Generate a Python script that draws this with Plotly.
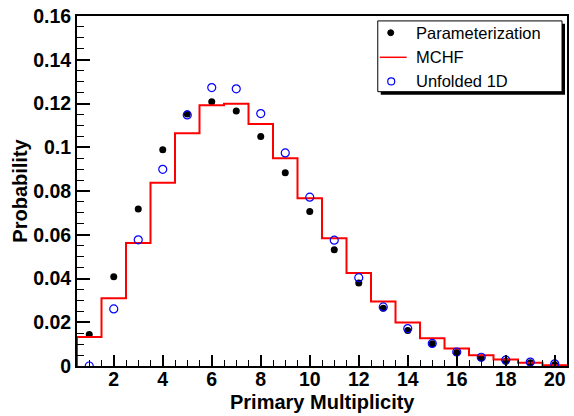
import plotly.graph_objects as go

multiplicity = list(range(1, 21))
parameterization = [0.0144, 0.0408, 0.0718, 0.0989, 0.1152, 0.1208, 0.1166, 0.1049, 0.0884, 0.0706,
                    0.0532, 0.0380, 0.0264, 0.0162, 0.0102, 0.0062, 0.0037, 0.0022, 0.0015, 0.0006]
mchf = [0.0133, 0.0310, 0.0562, 0.0838, 0.1064, 0.1192, 0.1199, 0.1106, 0.0950, 0.0767,
        0.0584, 0.0425, 0.0295, 0.0199, 0.0127, 0.0080, 0.0049, 0.0030, 0.0015, 0.0003]
unfolded = [0.0000, 0.0261, 0.0577, 0.0899, 0.1148, 0.1273, 0.1267, 0.1154, 0.0974, 0.0772,
            0.0575, 0.0404, 0.0270, 0.0171, 0.0103, 0.0064, 0.0040, 0.0027, 0.0018, 0.0010]
x_ticks = [2, 4, 6, 8, 10, 12, 14, 16, 18, 20]
y_ticks = [0, 0.02, 0.04, 0.06, 0.08, 0.1, 0.12, 0.14, 0.16]
legend_labels = ["Parameterization", "MCHF", "Unfolded 1D"]

# histogram step outline built from bin centres (bin width 1)
step_x = [multiplicity[0] - 0.5] + [m - 0.5 for m in multiplicity] + [multiplicity[-1] + 0.5]
step_y = [0] + mchf + [mchf[-1]]

W, H = 574, 416
ML, MR, MT, MB = 77, 5, 10, 50
PW, PH = W - ML - MR, H - MT - MB


def px(x):
    return (x - ML) / PW


def py(y):
    return (H - MB - y) / PH


fig = go.Figure()
fig.add_trace(go.Scatter(x=multiplicity, y=parameterization, mode="markers", name=legend_labels[0],
                         marker=dict(color="black", size=7, symbol="circle")))
fig.add_trace(go.Scatter(x=step_x, y=step_y, mode="lines", name=legend_labels[1], line_shape="hv",
                         line=dict(color="red", width=2)))
fig.add_trace(go.Scatter(x=multiplicity, y=unfolded, mode="markers", name=legend_labels[2],
                         marker=dict(color="blue", size=8, symbol="circle-open",
                                     line=dict(color="blue", width=1.2))))

FONT = "Liberation Sans, Arial, sans-serif"
tickfont = dict(family=FONT, size=19.5, color="black", weight="bold")
titlefont = dict(family=FONT, size=20, color="black", weight="bold")

# hand-drawn ROOT-style legend box with shadow
shapes = [
    dict(type="rect", xref="paper", yref="paper", x0=px(382), x1=px(567), y0=py(18), y1=py(90),
         fillcolor="black", line=dict(width=0), layer="above"),
    dict(type="rect", xref="paper", yref="paper", x0=px(379), x1=px(564), y0=py(15), y1=py(87),
         fillcolor="white", line=dict(color="black", width=1), layer="above"),
    dict(type="circle", xref="paper", yref="paper", x0=px(389), x1=px(395), y0=py(24), y1=py(30),
         fillcolor="black", line=dict(color="black", width=1), layer="above"),
    dict(type="line", xref="paper", yref="paper", x0=px(381), x1=px(408), y0=py(52), y1=py(52),
         line=dict(color="red", width=1.5), layer="above"),
    dict(type="circle", xref="paper", yref="paper", x0=px(389), x1=px(396), y0=py(73), y1=py(80),
         fillcolor="rgba(0,0,0,0)", line=dict(color="blue", width=1.2), layer="above"),
]
annotations = []
for label, yy in zip(legend_labels, [27, 52, 76]):
    annotations.append(dict(text=label, xref="paper", yref="paper", x=px(415), y=py(yy),
                            xanchor="left", yanchor="middle", showarrow=False,
                            font=dict(family=FONT, size=16.5, color="black")))
# x-axis title
annotations.append(dict(text="Primary Multiplicity", xref="paper", yref="paper", x=0.5, y=py(403),
                        xanchor="center", yanchor="middle", showarrow=False, font=titlefont))

fig.update_layout(
    width=W, height=H,
    margin=dict(l=ML, r=MR, t=MT, b=MB),
    paper_bgcolor="white", plot_bgcolor="white",
    showlegend=False,
    shapes=shapes, annotations=annotations,
    xaxis=dict(range=[0.5, 20.5], tickvals=x_ticks, ticks="inside", ticklen=11, tickwidth=1.5,
               tickcolor="black", showgrid=False, zeroline=False, showline=True, linecolor="black",
               linewidth=2, mirror=True, tickfont=tickfont, ticklabeloverflow="allow",
               ticklabelstandoff=-5,
               minor=dict(ticks="inside", dtick=0.5, ticklen=6, tickcolor="black", tickwidth=1)),
    yaxis=dict(range=[0, 0.16], tickvals=y_ticks, ticks="inside", ticklen=13, tickwidth=1.5,
               tickcolor="black", showgrid=False, zeroline=False, showline=True, linecolor="black",
               linewidth=2, mirror=True, tickfont=tickfont, ticklabeloverflow="allow",
               minor=dict(ticks="inside", dtick=0.005, ticklen=7, tickcolor="black", tickwidth=1),
               title=dict(text="Probability", font=titlefont, standoff=0)),
)

fig.write_html("out.html")
